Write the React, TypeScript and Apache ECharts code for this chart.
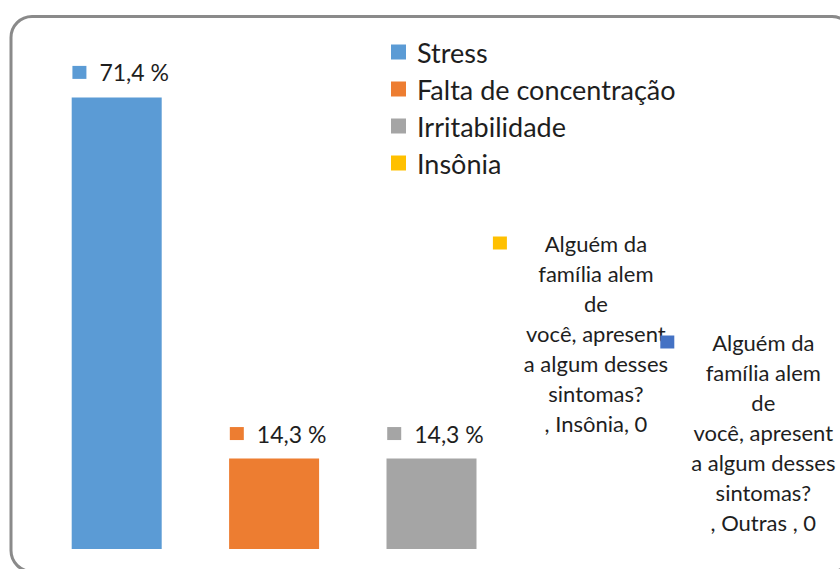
import React, { useEffect, useRef } from "react";
import * as echarts from "echarts";

const categories = ["Stress", "Falta de concentração", "Irritabilidade", "Insônia", "Outras "];
const values = [71.4, 14.3, 14.3, 0, 0];
const colors = ["#5B9BD5", "#ED7D31", "#A5A5A5", "#FFC000", "#4472C4"];
const legendNames = ["Stress", "Falta de concentração", "Irritabilidade", "Insônia"];
const questionLines = ["Alguém da", "família alem", "de", "você, apresent", "a algum desses", "sintomas?"];

const FONT = "Lato, 'Open Sans', sans-serif";
const TEXT = "#1e1e1e";

function fmtPct(v: number) {
  return v.toFixed(1).replace(".", ",") + " %";
}

function buildSeries() {
  return categories.map((name, i) => {
    const data = categories.map((_, j) => (j === i ? values[i] : "-"));
    const isLong = values[i] === 0;
    const label: any = isLong
      ? {
          show: true,
          position: "top",
          distance: 5,
          offset: i === 3 ? [-4.5, -106] : [5.5, -7],
          align: "center",
          formatter: () => {
            const lines = [...questionLines, `, ${name}, ${values[i]}`];
            return lines
              .map((l, k) => (k === 0 ? `{m|}{g|}{c|${l}}` : `{s|}{c|${l}}`))
              .join("\n");
          },
          rich: {
            m: { width: 14, height: 13, backgroundColor: colors[i], lineHeight: 30 },
            g: { width: 9, lineHeight: 30 },
            s: { width: 23, lineHeight: 30 },
            c: {
              width: 160,
              align: "center",
              fontSize: 22,
              lineHeight: 30,
              fontFamily: FONT,
              color: TEXT,
            },
          },
        }
      : {
          show: true,
          position: "top",
          distance: 12,
          offset: [4, 0],
          formatter: () => `{m|}{g|}{v|${fmtPct(values[i])}}`,
          rich: {
            m: { width: 14, height: 13, backgroundColor: colors[i] },
            g: { width: 13 },
            v: { fontSize: 23, fontFamily: FONT, color: TEXT, lineHeight: 26 },
          },
        };
    return {
      name,
      type: "bar",
      stack: "all",
      barWidth: 90,
      data,
      itemStyle: { color: colors[i] },
      label,
    };
  });
}

export default function App() {
  const ref = useRef<HTMLDivElement>(null);
  useEffect(() => {
    if (!ref.current) return;
    const chart = echarts.init(ref.current, null, { renderer: "svg" });
    chart.setOption({
      animation: false,
      backgroundColor: "#ffffff",
      textStyle: { fontFamily: FONT },
      grid: { left: 38, right: 15, top: 43, bottom: 20 },
      xAxis: {
        type: "category",
        data: categories,
        show: false,
      },
      yAxis: {
        type: "value",
        min: 0,
        max: 80,
        show: false,
        splitLine: { show: false },
      },
      legend: {
        data: legendNames,
        orient: "vertical",
        left: 386,
        top: 33,
        icon: "rect",
        itemWidth: 15,
        itemHeight: 15,
        itemGap: 9,
        textStyle: {
          fontSize: 27,
          color: TEXT,
          fontFamily: FONT,
          lineHeight: 28,
          padding: [0, 0, 0, 6],
        },
        selectedMode: false,
      },
      graphic: [
        {
          type: "rect",
          shape: { x: 11, y: 16.5, width: 842, height: 555, r: 21 },
          style: { fill: "none", stroke: "#8a8a8a", lineWidth: 3 },
          silent: true,
          z: 100,
        },
      ],
      series: buildSeries(),
    });
    return () => chart.dispose();
  }, []);
  return (
    <div
      ref={ref}
      style={{ position: "fixed", left: 0, top: 0, width: 840, height: 569 }}
    />
  );
}
